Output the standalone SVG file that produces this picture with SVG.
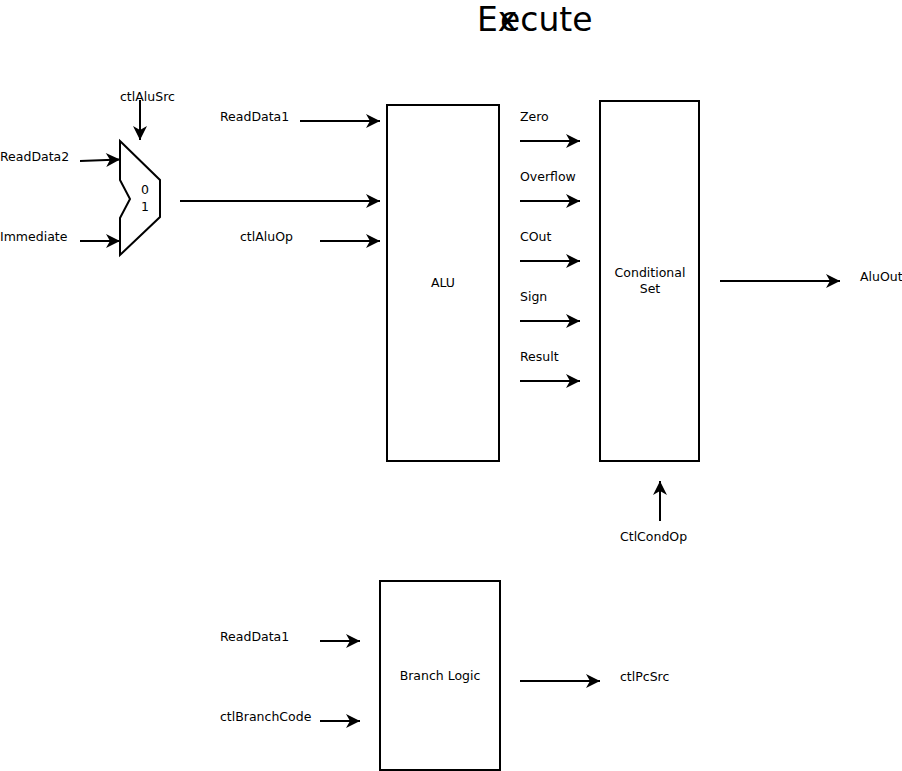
<svg xmlns="http://www.w3.org/2000/svg" width="902" height="771" viewBox="0 0 902 771">
<style>
text{font-family:"DejaVu Sans",sans-serif;font-size:12.5px;fill:#000}
.title{font-size:33px}
.box{fill:#fff;stroke:#000;stroke-width:2}
.c{fill:none;stroke:#000;stroke-width:2;marker-end:url(#ah)}
.m{text-anchor:middle}
</style>
<defs>
<marker id="ah" markerUnits="userSpaceOnUse" markerWidth="16" markerHeight="16" refX="15" refY="8" orient="auto" viewBox="0 0 16 16">
<path d="M1,1 L15,8 L1,15 L5,8 Z" fill="#000"/>
</marker>
</defs>
<rect width="902" height="771" fill="#fff"/>
<g id="title">
<text class="title" x="477" y="31">Ex</text>
<text class="title" x="500" y="31">ecute</text>
</g>
<g id="mux">
<polygon class="box" points="120,141 160,180 160,217 120,255 120,218 130,199 120,180"/>
<text class="m" x="145" y="194">0</text>
<text class="m" x="145" y="211">1</text>
</g>
<g id="alu">
<rect class="box" x="387" y="105" width="112" height="356"/>
<text class="m" x="443" y="287">ALU</text>
</g>
<g id="condset">
<rect class="box" x="600" y="101" width="99" height="360"/>
<text class="m" x="650" y="277">Conditional</text>
<text class="m" x="650" y="293">Set</text>
</g>
<g id="branch">
<rect class="box" x="380" y="581" width="120" height="189"/>
<text class="m" x="440" y="680">Branch Logic</text>
</g>
<g id="labels">
<text x="120" y="101">ctlAluSrc</text>
<text x="0" y="161">ReadData2</text>
<text x="0" y="241">Immediate</text>
<text x="220" y="121">ReadData1</text>
<text x="240" y="241">ctlAluOp</text>
<text x="520" y="121">Zero</text>
<text x="520" y="181">Overflow</text>
<text x="520" y="241">COut</text>
<text x="520" y="301">Sign</text>
<text x="520" y="361">Result</text>
<text x="860" y="281">AluOut</text>
<text x="620" y="541">CtlCondOp</text>
<text x="220" y="641">ReadData1</text>
<text x="220" y="721">ctlBranchCode</text>
<text x="620" y="681">ctlPcSrc</text>
</g>
<g id="connectors">
<line class="c" x1="140" y1="100" x2="140" y2="140"/>
<line class="c" x1="80" y1="161" x2="120" y2="159.5"/>
<line class="c" x1="80" y1="241" x2="120" y2="241"/>
<line class="c" x1="180" y1="201" x2="380" y2="201"/>
<line class="c" x1="300" y1="121" x2="380" y2="121"/>
<line class="c" x1="320" y1="241" x2="380" y2="241"/>
<line class="c" x1="520" y1="141" x2="580" y2="141"/>
<line class="c" x1="520" y1="201" x2="580" y2="201"/>
<line class="c" x1="520" y1="261" x2="580" y2="261"/>
<line class="c" x1="520" y1="321" x2="580" y2="321"/>
<line class="c" x1="520" y1="381" x2="580" y2="381"/>
<line class="c" x1="720" y1="281" x2="840" y2="281"/>
<line class="c" x1="660" y1="521" x2="660" y2="481"/>
<line class="c" x1="320" y1="641" x2="360" y2="641"/>
<line class="c" x1="320" y1="721" x2="360" y2="721"/>
<line class="c" x1="520" y1="681" x2="600" y2="681"/>
</g>
</svg>
